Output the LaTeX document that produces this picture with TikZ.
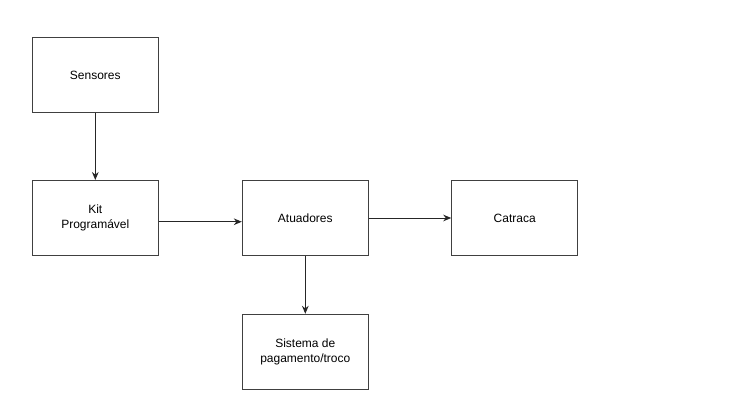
\documentclass[tikz,border=0pt]{standalone}
\usepackage{fontspec}
\setmainfont{Liberation Sans}
\usetikzlibrary{arrows.meta}
\begin{document}
\begin{tikzpicture}
    [x=0.75pt,y=-0.75pt,
     box/.style={draw=black!75,line width=0.75pt,minimum width=94.5pt,minimum height=56.25pt,inner sep=0pt,align=center,font=\fontsize{9pt}{11pt}\selectfont},
     arr/.style={draw=black!85,line width=0.75pt,-{Stealth[length=6pt,width=5pt]}}]
		\useasboundingbox (0,0) rectangle (734,413);
		\node [box] (sensores) at (95.3,75) {Sensores};
		\node [box] (kit) at (95.3,218) {Kit\\Programável};
		\node [box] (atuadores) at (305.3,218) {Atuadores};
		\node [box] (catraca) at (514.7,218) {Catraca};
		\node [box] (sistema) at (305.3,351.8) {Sistema de\\pagamento/troco};

		\draw[arr] (sensores) -- (kit);
		\draw[arr] ([yshift=-2.8pt]kit.east) -- ([yshift=-2.8pt]atuadores.west);
		\draw[arr] (atuadores) -- (catraca);
		\draw[arr] (atuadores) -- (sistema);
    \end{tikzpicture}
\end{document}
